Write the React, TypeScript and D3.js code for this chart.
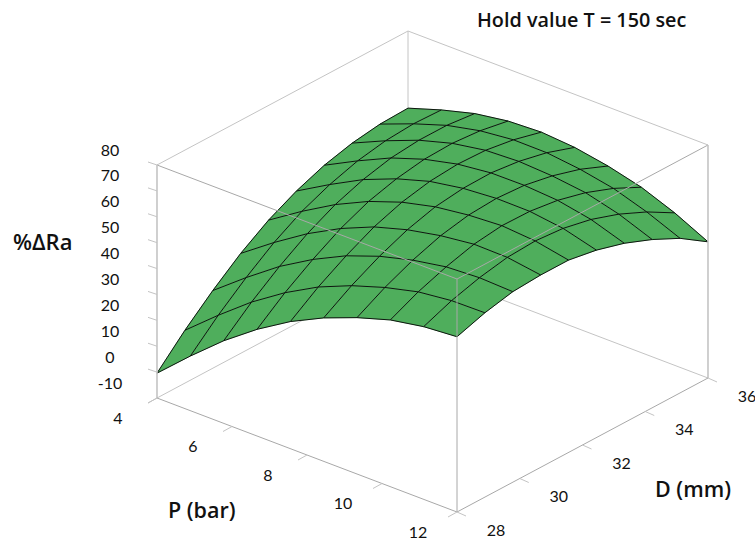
// App.tsx - response surface %dRa vs P and D, hold T = 150 sec
import React from 'react';
import * as d3 from 'd3';

const width = 755;
const height = 542;

const pTicks = [4, 6, 8, 10, 12];
const dTicks = [28, 30, 32, 34, 36];
const zTicks = [-10, 0, 10, 20, 30, 40, 50, 60, 70, 80];

// grid stations on each axis
const pGrid = [4, 4.889, 5.778, 6.667, 7.556, 8.444, 9.333, 10.222, 11.111, 12];
const dGrid = [28, 28.889, 29.778, 30.667, 31.556, 32.444, 33.333, 34.222, 35.111, 36];

// %dRa: one row per P, one column per D
const surface = [
  [-0.4, 10.4, 20, 28.6, 35.7, 41.2, 45.4, 48.2, 49.8, 50.2],
  [11.1, 21.1, 29.9, 37.7, 44, 48.6, 52, 54, 54.8, 54.4],
  [21.9, 31.1, 39.1, 46, 51.5, 55.4, 58, 59.1, 59.1, 57.9],
  [31.2, 39.6, 46.7, 52.9, 57.6, 60.6, 62.4, 62.8, 61.9, 59.9],
  [39.1, 46.7, 53, 58.4, 62.2, 64.5, 65.4, 65, 63.3, 60.5],
  [45.4, 52.1, 57.7, 62.2, 65.3, 66.7, 66.9, 65.6, 63.2, 59.5],
  [50.4, 56.3, 61.1, 64.8, 67, 67.7, 67, 64.9, 61.7, 57.2],
  [54.4, 59.5, 63.4, 66.4, 67.8, 67.6, 66.1, 63.3, 59.2, 53.9],
  [56.7, 61, 64.1, 66.2, 66.8, 65.9, 63.6, 59.9, 55, 48.9],
  [57.7, 61.2, 63.6, 64.3, 64.3, 62.4, 59.3, 55, 49.7, 42.6],
];

// oblique projection: each axis adds its own pixel offset
const pX = d3.scaleLinear().domain([4, 12]).range([157, 457]);
const pY = d3.scaleLinear().domain([4, 12]).range([398, 512]);
const dX = d3.scaleLinear().domain([28, 36]).range([0, 251]);
const dY = d3.scaleLinear().domain([28, 36]).range([0, -134]);
const zY = d3.scaleLinear().domain([-10, 80]).range([0, -233]);

type Pt = [number, number];
const project = (p: number, d: number, z: number): Pt => [
  pX(p) + dX(d),
  pY(p) + dY(d) + zY(z),
];

const line = d3.line<Pt>();
const LIGHT = '#c4c4c4';
const MID = '#a8a8a8';
const TICK_FONT = 'Lato, "Open Sans", sans-serif';
const LABEL_FONT = '"Open Sans", Lato, sans-serif';

function Edge({ a, b, color = LIGHT, w = 1 }: { a: Pt; b: Pt; color?: string; w?: number }) {
  return <path d={line([a, b]) as string} stroke={color} strokeWidth={w} fill="none" />;
}

export default function App() {
  const cells: Pt[][] = [];
  for (let i = 0; i < pGrid.length - 1; i++) {
    for (let j = 0; j < dGrid.length - 1; j++) {
      cells.push([
        project(pGrid[i], dGrid[j], surface[i][j]),
        project(pGrid[i + 1], dGrid[j], surface[i + 1][j]),
        project(pGrid[i + 1], dGrid[j + 1], surface[i + 1][j + 1]),
        project(pGrid[i], dGrid[j + 1], surface[i][j + 1]),
      ]);
    }
  }
  const pLines = pGrid.map((p, i) => dGrid.map((d, j) => project(p, d, surface[i][j])));
  const dLines = dGrid.map((d, j) => pGrid.map((p, i) => project(p, d, surface[i][j])));

  const zMin = -10;
  const zMax = 80;

  return (
    <svg
      width={width}
      height={height}
      style={{ position: 'absolute', left: 0, top: 0, display: 'block', background: '#fff' }}
    >
      {/* back walls, hidden by the surface */}
      <g>
        <Edge a={project(4, 28, zMin)} b={project(4, 36, zMin)} />
        <Edge a={project(4, 36, zMin)} b={project(12, 36, zMin)} />
        <Edge a={project(4, 36, zMin)} b={project(4, 36, zMax)} />
        <Edge a={project(4, 28, zMax)} b={project(4, 36, zMax)} />
        <Edge a={project(4, 36, zMax)} b={project(12, 36, zMax)} />
      </g>

      <g>
        {cells.map((c, i) => (
          <polygon
            key={i}
            points={c.map(q => q.join(',')).join(' ')}
            fill="#4fae5c"
            stroke="#4fae5c"
            strokeWidth={0.5}
          />
        ))}
        {pLines.map((l, i) => (
          <path key={i} d={line(l) as string} fill="none" stroke="#0d150e" strokeWidth={1} />
        ))}
        {dLines.map((l, i) => (
          <path key={i} d={line(l) as string} fill="none" stroke="#0d150e" strokeWidth={1} />
        ))}
      </g>

      {/* front edges run over the surface */}
      <g>
        <Edge a={project(4, 28, zMax)} b={project(12, 28, zMax)} color={MID} />
        <Edge a={project(12, 28, zMax)} b={project(12, 36, zMax)} color={MID} />
        <Edge a={project(12, 28, zMin)} b={project(12, 28, zMax)} color={MID} />
        <Edge a={project(4, 28, zMin)} b={project(4, 28, zMax)} w={1.6} />
        <Edge a={project(12, 36, zMin)} b={project(12, 36, zMax)} w={1.6} />
        <Edge a={project(4, 28, zMin)} b={project(12, 28, zMin)} color={MID} />
        <Edge a={project(12, 28, zMin)} b={project(12, 36, zMin)} color={MID} />
      </g>

      {/* z axis */}
      <g fontFamily={TICK_FONT} fontSize={16} fill="#111" textAnchor="middle">
        {zTicks.map(z => {
          const [x, y] = project(4, 28, z);
          return (
            <g key={z}>
              <path d={`M${x},${y}l-9,${z === zMin ? 5 : -3}`} stroke={LIGHT} fill="none" />
              <text x={x - 47} y={y - 15} dy="0.35em">
                {z}
              </text>
            </g>
          );
        })}
      </g>

      {/* P axis */}
      <g fontFamily={TICK_FONT} fontSize={16} fill="#111" textAnchor="middle">
        {pTicks.map(p => {
          const [x, y] = project(p, 28, zMin);
          return (
            <g key={p}>
              <path d={`M${x},${y}l-9,5`} stroke={LIGHT} fill="none" />
              <text x={x - 39} y={y + 20} dy="0.35em">
                {p}
              </text>
            </g>
          );
        })}
      </g>

      {/* D axis */}
      <g fontFamily={TICK_FONT} fontSize={16} fill="#111" textAnchor="middle">
        {dTicks.map(d => {
          const [x, y] = project(12, d, zMin);
          return (
            <g key={d}>
              <path d={`M${x},${y}l9,4`} stroke={LIGHT} fill="none" />
              <text x={x + 39} y={y + 18} dy="0.35em">
                {d}
              </text>
            </g>
          );
        })}
      </g>

      <g fontFamily={LABEL_FONT} fontWeight={600} fill="#111">
        <text x={477} y={27} fontSize={19.8}>
          Hold value T = 150 sec
        </text>
        <text x={13} y={250} fontSize={22}>
          %ΔRa
        </text>
        <text x={168} y={518} fontSize={21.5}>
          P (bar)
        </text>
        <text x={655} y={497} fontSize={21.5}>
          D (mm)
        </text>
      </g>
    </svg>
  );
}
